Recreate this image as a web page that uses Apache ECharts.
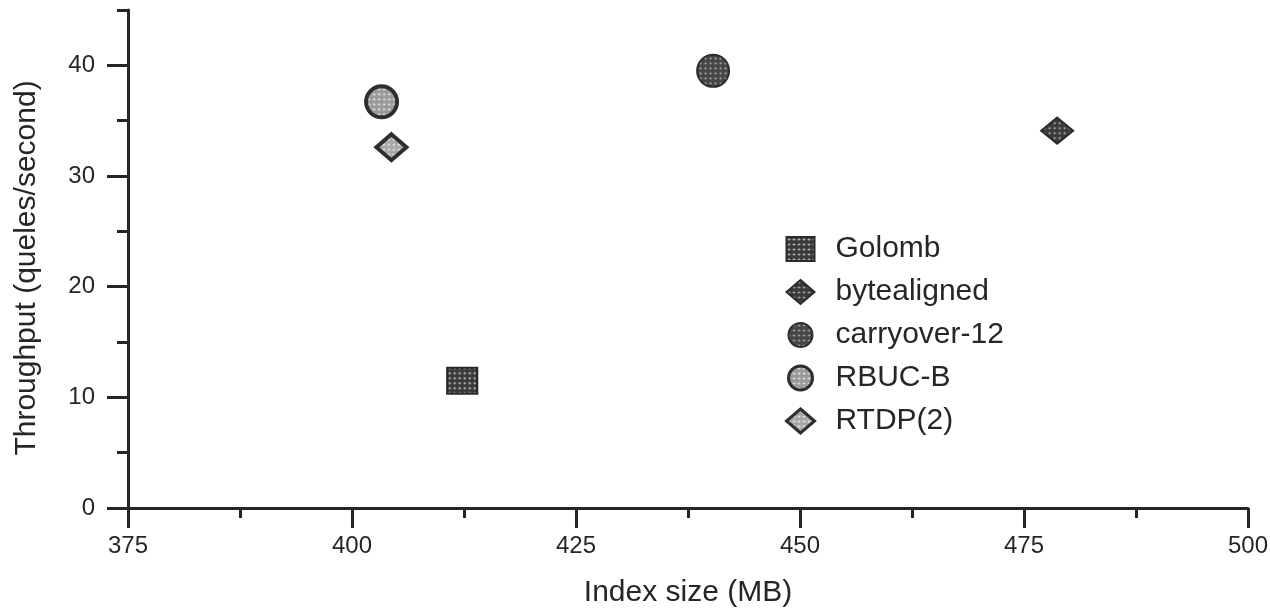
<!DOCTYPE html>
<html>
<head>
<meta charset="utf-8">
<script src="https://cdn.jsdelivr.net/npm/echarts@6/dist/echarts.min.js"></script>
<style>
  html, body { margin: 0; padding: 0; background: #fff; }
  #chart { width: 1270px; height: 611px; }
</style>
</head>
<body>
<div id="chart"></div>
<script>
'use strict';
// index size vs throughput, one point per coding scheme
const seriesNames = ['Golomb', 'bytealigned', 'carryover-12', 'RBUC-B', 'RTDP(2)'];
const indexSize = [412.3, 478.7, 440.3, 403.3, 404.4];
const throughput = [11.5, 34.1, 39.5, 36.7, 32.6];

const xTicks = [375, 400, 425, 450, 475, 500];
const xMinorTicks = [387.5, 412.5, 437.5, 462.5, 487.5];
const yTicks = [0, 10, 20, 30, 40];
const yMinorTicks = [5, 15, 25, 35, 45];

const FONT = '"Liberation Sans", Arial, sans-serif';
const INK = '#262626';

// small dotted fill, like the halftone in the scan
function dotCanvas(bg, dot) {
  const c = document.createElement('canvas');
  c.width = 5; c.height = 5;
  const g = c.getContext('2d');
  g.fillStyle = bg; g.fillRect(0, 0, 5, 5);
  g.fillStyle = dot;
  g.beginPath(); g.arc(2.5, 2.5, 1.1, 0, Math.PI * 2); g.fill();
  return c;
}
// scatter symbols are unit paths scaled up, so the pattern has to be scaled down to match
function fill(canvas, size) {
  const w = Array.isArray(size) ? size[0] : size;
  const h = Array.isArray(size) ? size[1] : size;
  return { image: canvas, repeat: 'repeat', scaleX: 2 / w, scaleY: 2 / h };
}

const looks = [
  { symbol: 'rect', size: [30, 26], tex: dotCanvas('#3a3a3a', '#d8d8d8'), border: '#2a2a2a', bw: 2 },
  { symbol: 'diamond', size: [32, 26], tex: dotCanvas('#3a3a3a', '#bdbdbd'), border: '#2a2a2a', bw: 2 },
  { symbol: 'circle', size: 32, tex: dotCanvas('#464646', '#b0b0b0'), border: '#2e2e2e', bw: 2 },
  { symbol: 'circle', size: 31, tex: dotCanvas('#9a9a9a', '#f2f2f2'), border: '#2e2e2e', bw: 4 },
  { symbol: 'diamond', size: [30, 26], tex: dotCanvas('#a8a8a8', '#f4f4f4'), border: '#2e2e2e', bw: 4 }
];

const chart = echarts.init(document.getElementById('chart'));

const series = seriesNames.map((name, i) => ({
  name,
  type: 'scatter',
  xAxisIndex: 0,
  yAxisIndex: 0,
  symbol: looks[i].symbol,
  symbolSize: looks[i].size,
  data: [[indexSize[i], throughput[i]]],
  itemStyle: { color: fill(looks[i].tex, looks[i].size), borderColor: looks[i].border, borderWidth: looks[i].bw, opacity: 1 },
  emphasis: { disabled: true }
}));

const legendData = seriesNames.map((name, i) => ({
  name,
  itemStyle: { color: { image: looks[i].tex, repeat: 'repeat' }, borderColor: looks[i].border, borderWidth: Math.min(3, looks[i].bw) }
}));

const axisBase = {
  type: 'value',
  splitLine: { show: false },
  nameLocation: 'middle',
  nameTextStyle: { fontFamily: FONT, fontSize: 30, color: INK }
};

chart.setOption({
  backgroundColor: '#ffffff',
  animation: false,
  grid: { left: 128, right: 22, top: 10, bottom: 103, outerBoundsMode: 'none', containLabel: false },
  legend: {
    orient: 'vertical',
    left: 785,
    top: 234,
    padding: 0,
    itemWidth: 28,
    itemHeight: 24,
    itemGap: 13,
    data: legendData,
    textStyle: { fontFamily: FONT, fontSize: 30, color: INK, padding: [0, 0, 0, 16] }
  },
  xAxis: [
    Object.assign({}, axisBase, {
      min: 375, max: 500,
      name: 'Index size (MB)',
      nameGap: 70,
      axisLine: { lineStyle: { color: INK, width: 3 } },
      axisTick: { length: 20, lineStyle: { color: INK, width: 3 }, customValues: xTicks },
      axisLabel: { customValues: xTicks, margin: 26, fontFamily: FONT, fontSize: 24, color: INK }
    }),
    Object.assign({}, axisBase, {
      min: 375, max: 500, position: 'bottom',
      axisLine: { show: false },
      axisTick: { length: 10, lineStyle: { color: INK, width: 3 }, customValues: xMinorTicks },
      axisLabel: { show: false }
    })
  ],
  yAxis: [
    Object.assign({}, axisBase, {
      min: 0, max: 45,
      name: 'Throughput (queles/second)',
      nameGap: 86,
      nameTextStyle: { fontFamily: FONT, fontSize: 30, color: INK, padding: [0, 18, 0, 0] },
      axisLine: { lineStyle: { color: INK, width: 3 } },
      axisTick: { length: 21, lineStyle: { color: INK, width: 3 }, customValues: yTicks },
      axisLabel: { customValues: yTicks, margin: 33, fontFamily: FONT, fontSize: 24, color: INK }
    }),
    Object.assign({}, axisBase, {
      min: 0, max: 45, position: 'left',
      axisLine: { show: false },
      axisTick: { length: 11, lineStyle: { color: INK, width: 3 }, customValues: yMinorTicks },
      axisLabel: { show: false }
    })
  ],
  series
});
</script>
</body>
</html>
